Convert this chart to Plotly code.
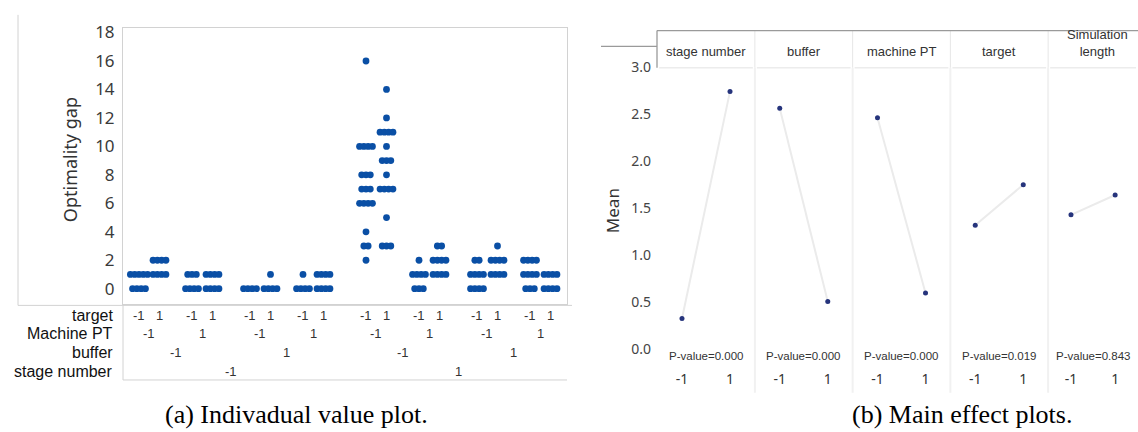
import plotly.graph_objects as go

W, H = 1138, 432

# ---------------- (a) Individual value plot : data ----------------
level_labels = ["-1", "1"]
row_factors = ["target", "Machine PT", "buffer", "stage number"]
y_ticks_a = list(range(0, 19, 2))

# optimality gap observations per cell; cells ordered by
# stage number, buffer, machine PT, target (each -1 then 1)
gap_stage_lo = [
    [0, 0, 0, 0, 1, 1, 1, 1, 1],
    [1, 1, 1, 1, 2, 2, 2, 2],
    [0, 0, 0, 0, 1, 1, 1],
    [0, 0, 0, 0, 1, 1, 1, 1],
    [0, 0, 0, 0],
    [0, 0, 0, 0, 1],
    [0, 0, 0, 0, 1],
    [0, 0, 0, 0, 1, 1, 1, 1],
]
gap_stage_hi = [
    [2, 3, 3, 4, 6, 6, 6, 6, 7, 7, 7, 8, 8, 8, 10, 10, 10, 10, 16],
    [3, 3, 3, 5, 7, 7, 7, 7, 8, 9, 9, 9, 10, 11, 11, 11, 11, 12, 14],
    [0, 0, 0, 1, 1, 1, 1, 2],
    [1, 1, 1, 1, 2, 2, 2, 2, 3, 3],
    [0, 0, 0, 0, 1, 1, 1, 1, 2, 2],
    [1, 1, 1, 1, 2, 2, 2, 2, 3],
    [0, 0, 0, 1, 1, 1, 1, 2, 2, 2, 2],
    [0, 0, 0, 0, 1, 1, 1, 1],
]

# ---------------- (b) Main effects plot : data ----------------
effect_factors = ["stage number", "buffer", "machine PT", "target", "Simulation<br>length"]
mean_low = [0.33, 2.56, 2.46, 1.32, 1.43]
mean_high = [2.74, 0.51, 0.60, 1.75, 1.64]
p_values = ["0.000", "0.000", "0.000", "0.019", "0.843"]
y_ticks_b = [0.0, 0.5, 1.0, 1.5, 2.0, 2.5, 3.0]

# ---------------- helpers / layout constants ----------------
def px(x):
    return x / W

def py(y):
    return 1 - y / H

BLUE = "#0a4fa5"
FRAME = "#d2d2d2"
SANS = "Liberation Sans, Arial, sans-serif"
UI = "Noto Sans, sans-serif"
SERIF = "Liberation Serif, Times New Roman, serif"

# horizontal layout of the 16 cells (in axis units = pixels of the panel)
BASE = 139
STEP_T, STEP_P, STEP_B, STEP_S = 20.5, 53, 111, 227
DOT_DX = 4.3


def cell_pos(i):
    s, b, p, t = i // 8, (i // 4) % 2, (i // 2) % 2, i % 2
    return BASE + t * STEP_T + p * STEP_P + b * STEP_B + s * STEP_S


cells = gap_stage_lo + gap_stage_hi
xs, ys = [], []
for i, obs in enumerate(cells):
    c = cell_pos(i)
    for v in sorted(set(obs)):
        n = obs.count(v)
        for k in range(n):
            xs.append(c + (k - (n - 1) / 2) * DOT_DX)
            ys.append(v)

fig = go.Figure()
fig.add_trace(go.Scatter(
    x=xs, y=ys, mode="markers", xaxis="x", yaxis="y",
    marker=dict(size=6.8, color=BLUE, line=dict(width=0)),
    showlegend=False, hoverinfo="skip"))

# ---------------- (b) traces ----------------
PANEL_W = 97.75
PANEL_C0 = 706
for k in range(5):
    ax = str(k + 2)
    fig.add_trace(go.Scatter(
        x=level_labels, y=[mean_low[k], mean_high[k]],
        mode="lines+markers", xaxis="x" + ax, yaxis="y2",
        line=dict(color="#ebebeb", width=2),
        marker=dict(size=5, color="#26347c"),
        showlegend=False, hoverinfo="skip"))

layout = dict(
    width=W, height=H, autosize=False,
    margin=dict(l=0, r=0, t=0, b=0),
    paper_bgcolor="white", plot_bgcolor="white",
    showlegend=False,
    xaxis=dict(domain=[px(123), px(567)], range=[123, 567], anchor="y",
               showline=True, mirror=True, linecolor=FRAME, linewidth=1,
               showticklabels=False, showgrid=False, zeroline=False, ticks=""),
    yaxis=dict(domain=[py(302), py(20)], range=[(286 - 302) / 14.5, (286 - 20) / 14.5],
               anchor="x", tickvals=y_ticks_a, showline=True, mirror=True,
               linecolor=FRAME, linewidth=1, showgrid=False, zeroline=False,
               ticks="", ticklabelstandoff=4,
               tickfont=dict(family=UI, size=17, color="#3a3a3a")),
    yaxis2=dict(domain=[py(368), py(58)], range=[(348 - 368) / 96, (348 - 58) / 96],
                anchor="free", position=px(657), tickvals=y_ticks_b, tickformat=".1f",
                showline=False, showgrid=False, zeroline=False, ticks="",
                ticklabelstandoff=6,
                tickfont=dict(family=UI, size=14, color="#444444")),
)
for k in range(5):
    c = PANEL_C0 + k * PANEL_W
    layout["xaxis" + str(k + 2)] = dict(
        domain=[px(c - PANEL_W / 2), px(min(c + PANEL_W / 2, W))],
        type="category", categoryorder="array", categoryarray=level_labels,
        range=[-0.518, 1.518], anchor="y2", showline=False, showgrid=False,
        zeroline=False, ticks="", tickfont=dict(family=UI, size=14, color="#333333"))
fig.update_layout(**layout)

ann = []
shapes = []

# ---- (a) annotations ----
ann.append(dict(text="Optimality gap", x=px(70), y=py(155), xref="paper", yref="paper",
                xanchor="center", yanchor="middle", textangle=-90, showarrow=False,
                font=dict(family=UI, size=18, color="#333333")))
row_y = [313, 332, 351, 370]
for r, name in enumerate(row_factors):
    ann.append(dict(text=name, x=px(115), y=py(row_y[r]), xref="paper", yref="paper",
                    xanchor="right", yanchor="middle", showarrow=False,
                    font=dict(family=SANS, size=16, color="#111111")))
for r in range(4):
    size = 2 ** r
    for g in range(16 // size):
        idx = list(range(g * size, (g + 1) * size))
        xc = sum(cell_pos(i) for i in idx) / size
        ann.append(dict(text=level_labels[g % 2], x=xc, y=py(row_y[r]), xref="x",
                        yref="paper", xanchor="center", yanchor="middle", showarrow=False,
                        font=dict(family=SANS, size=13, color="#333333")))

# frame lines (a)
def line(x0, y0, x1, y1, color=FRAME, width=1):
    shapes.append(dict(type="line", xref="paper", yref="paper",
                       x0=px(x0), y0=py(y0), x1=px(x1), y1=py(y1),
                       line=dict(color=color, width=width)))

line(18, 7, 18, 303)
line(18, 303, 572, 303)
line(123, 302, 123, 379)
line(123, 379, 567, 379)

# ---- (b) annotations ----
ann.append(dict(text="Mean", x=px(612), y=py(207), xref="paper", yref="paper",
                xanchor="center", yanchor="middle", textangle=-90, showarrow=False,
                font=dict(family=UI, size=17, color="#333333")))
for k in range(5):
    c = PANEL_C0 + k * PANEL_W
    ann.append(dict(text=effect_factors[k], x=px(c), y=py(54), xref="paper", yref="paper",
                    xanchor="center", yanchor="bottom", showarrow=False,
                    font=dict(family=SANS, size=13, color="#333333")))
    ann.append(dict(text="P-value=" + p_values[k], x=0.5, y=py(355),
                    xref="x" + str(k + 2), yref="paper", xanchor="center",
                    yanchor="middle", showarrow=False,
                    font=dict(family=SANS, size=11.5, color="#333333")))
    left = c - PANEL_W / 2
    right = min(c + PANEL_W / 2, W)
    line(left + 2, 61, right - 2, 61, color="#e2e2e2")
    if k > 0:
        line(left, 23, left, 61, color="#e6e6e6")
        line(left, 61, left, 392, color="#f1f1f1", width=2)

line(601, 39, 657, 39, color="#9a9a9a", width=1.3)
line(657, 23, 657, 61, color="#9a9a9a", width=1.3)
line(657, 23, 1138, 23, color="#9a9a9a", width=1.3)

# ---- captions ----
ann.append(dict(text="(a) Indivadual value plot.", x=px(296), y=py(414), xref="paper",
                yref="paper", xanchor="center", yanchor="middle", showarrow=False,
                font=dict(family=SERIF, size=26, color="#000000")))
ann.append(dict(text="(b) Main effect plots.", x=px(962), y=py(414), xref="paper",
                yref="paper", xanchor="center", yanchor="middle", showarrow=False,
                font=dict(family=SERIF, size=26, color="#000000")))

fig.update_layout(annotations=ann, shapes=shapes)
fig.write_html("out.html", post_script="document.body.style.margin='0px';",
               config={"displayModeBar": False})
